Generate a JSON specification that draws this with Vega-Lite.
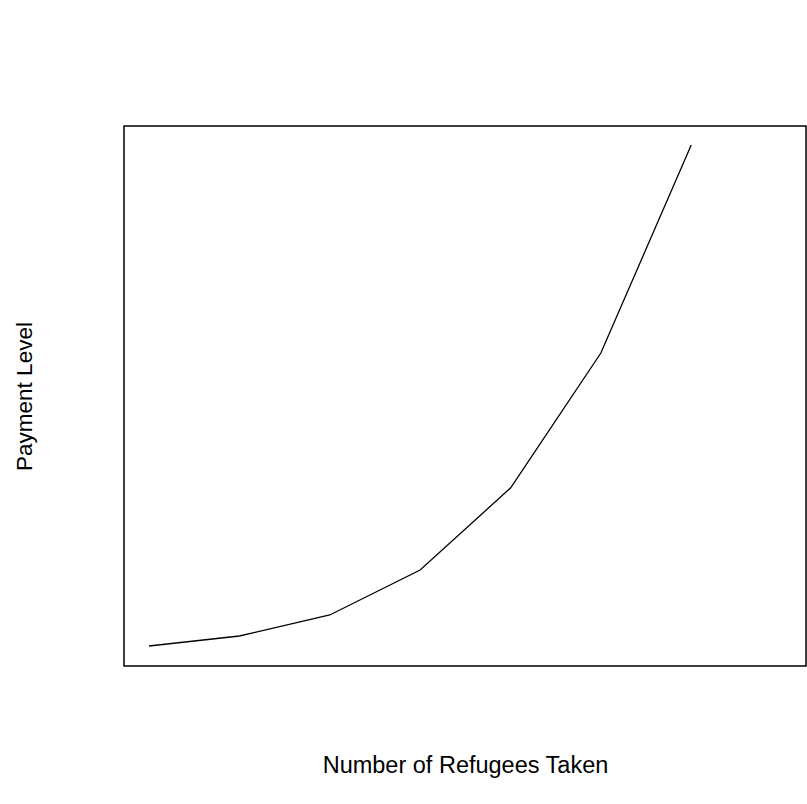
{
  "$schema": "https://vega.github.io/schema/vega-lite/v6.json",
  "width": 682,
  "height": 540,
  "autosize": {"type": "none"},
  "padding": {"left": 124, "top": 126, "right": 1, "bottom": 138},
  "background": "white",
  "config": {
    "view": {"stroke": "black", "strokeWidth": 1.5},
    "font": "Liberation Sans"
  },
  "data": {
    "values": [
      {"refugees": 1, "payment": 20},
      {"refugees": 2, "payment": 30},
      {"refugees": 3, "payment": 51},
      {"refugees": 4, "payment": 96},
      {"refugees": 5, "payment": 178},
      {"refugees": 6, "payment": 313},
      {"refugees": 7, "payment": 521}
    ]
  },
  "mark": {"type": "line", "color": "black", "strokeWidth": 1.3},
  "encoding": {
    "x": {
      "field": "refugees",
      "type": "quantitative",
      "scale": {"domain": [0.723, 8.27], "nice": false, "zero": false},
      "axis": {"title": "Number of Refugees Taken", "ticks": false, "labels": false, "domain": false, "grid": false, "titleFontSize": 23.5, "titleFontWeight": "normal", "titleColor": "black", "titlePadding": 87}
    },
    "y": {
      "field": "payment",
      "type": "quantitative",
      "scale": {"domain": [0, 540], "nice": false},
      "axis": {"title": "Payment Level", "ticks": false, "labels": false, "domain": false, "grid": false, "titleFontSize": 22.5, "titleFontWeight": "normal", "titleColor": "black", "titlePadding": 88}
    }
  }
}
